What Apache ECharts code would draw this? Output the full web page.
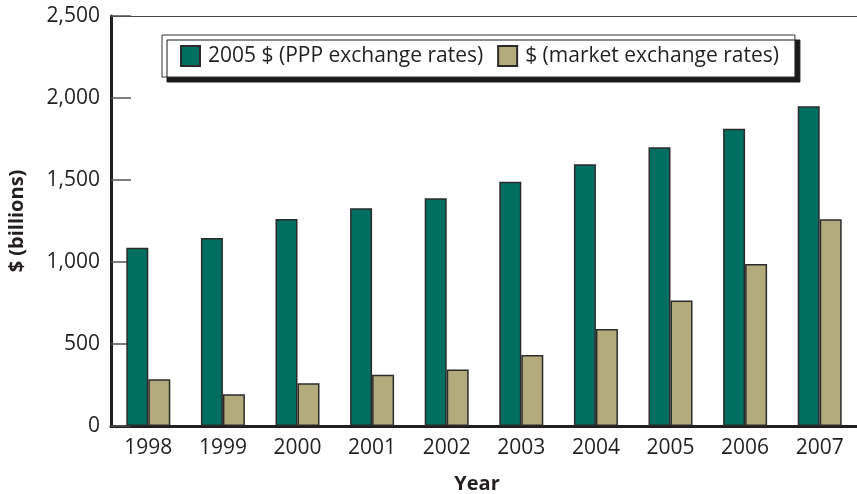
<!DOCTYPE html>
<html>
<head>
<meta charset="utf-8">
<script src="https://cdn.jsdelivr.net/npm/echarts@6/dist/echarts.min.js"></script>
<style>
  html, body { margin: 0; padding: 0; background: #fff; }
  #chart { width: 857px; height: 494px; }
</style>
</head>
<body>
<div id="chart"></div>
<script>
var years = ['1998', '1999', '2000', '2001', '2002', '2003', '2004', '2005', '2006', '2007'];
var pppValues = [1087, 1146, 1262, 1327, 1388, 1490, 1596, 1699, 1813, 1949];
var marketValues = [285, 193, 260, 313, 345, 433, 591, 766, 988, 1260];
var seriesNames = ['2005 $ (PPP exchange rates)', '$ (market exchange rates)'];

var FONT = '"Open Sans", sans-serif';
var INK = '#231f20';

var myChart = echarts.init(document.getElementById('chart'));

var option = {
    animation: false,
    backgroundColor: '#fff',
    textStyle: { fontFamily: FONT, color: INK },
    grid: { left: 111, right: 0, top: 16, bottom: 68, containLabel: false, outerBoundsMode: 'none' },
    legend: {
        left: 162,
        top: 35,
        data: seriesNames,
        icon: 'rect',
        itemWidth: 19,
        itemHeight: 20,
        itemGap: 14,
        padding: [10, 16, 10, 18],
        backgroundColor: '#fff',
        borderColor: '#333',
        borderWidth: 1,
        shadowColor: '#1a1a1a',
        shadowBlur: 0,
        shadowOffsetX: 5,
        shadowOffsetY: 5,
        textStyle: { fontFamily: FONT, fontSize: 21, color: INK, padding: [0, 0, 0, 3] }
    },
    xAxis: [
        {
            type: 'category',
            data: years,
            position: 'bottom',
            name: 'Year',
            nameLocation: 'middle',
            nameGap: 48,
            nameTextStyle: { fontFamily: FONT, fontSize: 20, fontWeight: 'bold', color: INK, padding: [0, 14, 0, 0] },
            axisLine: { lineStyle: { color: INK, width: 3 } },
            axisTick: { show: false },
            axisLabel: { fontFamily: FONT, fontSize: 21, color: INK, margin: 12 }
        },
        {
            type: 'category',
            data: years,
            position: 'top',
            axisLine: { lineStyle: { color: '#444', width: 1 } },
            axisTick: { show: false },
            axisLabel: { show: false }
        }
    ],
    yAxis: {
        type: 'value',
        min: 0,
        max: 2500,
        interval: 500,
        name: '$ (billions)',
        nameLocation: 'middle',
        nameGap: 84,
        nameTextStyle: { fontFamily: FONT, fontSize: 20, fontWeight: 'bold', color: INK },
        axisLine: { show: true, lineStyle: { color: INK, width: 3 } },
        axisTick: { show: true, inside: true, length: 20, lineStyle: { color: '#555', width: 1.5 } },
        splitLine: { show: false },
        axisLabel: {
            fontFamily: FONT, fontSize: 21, color: INK, margin: 11,
            formatter: function (v) { return v.toLocaleString('en-US'); }
        }
    },
    series: [
        {
            name: seriesNames[0],
            type: 'bar',
            data: pppValues,
            barWidth: 22,
            barGap: '0%',
            itemStyle: { color: '#016e62', borderColor: '#2b2b2b', borderWidth: 1.5 }
        },
        {
            name: seriesNames[1],
            type: 'bar',
            data: marketValues,
            barWidth: 22,
            barGap: '0%',
            itemStyle: { color: '#b3ab7c', borderColor: '#2b2b2b', borderWidth: 1.5 }
        }
    ]
};

myChart.setOption(option);
window.addEventListener('resize', function () {
    if (myChart != null) {
        myChart.resize();
    }
});
</script>
</body>
</html>
